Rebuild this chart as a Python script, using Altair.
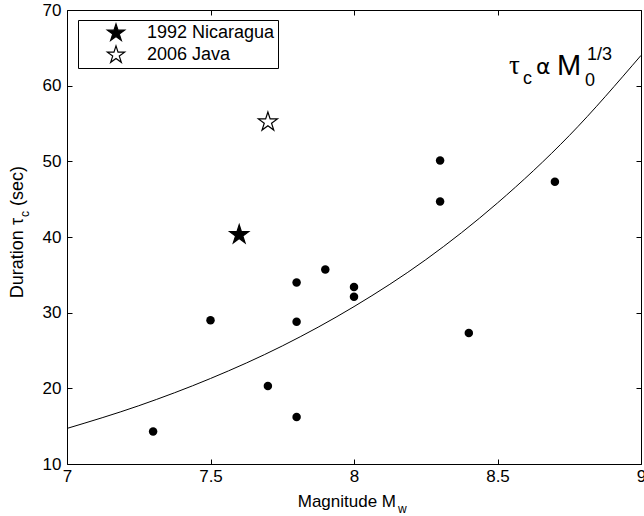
import altair as alt
import pandas as pd

# ---- data ----
mw = [7.3, 7.5, 7.7, 7.8, 7.8, 7.8, 7.9, 8.0, 8.0, 8.3, 8.3, 8.4, 8.7]
tau = [14.3, 29.0, 20.3, 16.2, 28.8, 34.0, 35.7, 33.4, 32.1, 50.1, 44.7, 27.3, 47.3]

star_names = ["1992 Nicaragua", "2006 Java"]
star_mw = [7.6, 7.7]
star_tau = [40.3, 55.2]
star_fill = ["black", "white"]

curve_mw = [7.0, 7.25, 7.5, 7.75, 8.0, 8.25, 8.5, 8.75, 9.0]
curve_tau = [14.7, 17.7, 21.3, 25.6, 30.8, 37.0, 44.5, 53.4, 64.0]

x_ticks = [7, 7.5, 8, 8.5, 9]
y_ticks = [10, 20, 30, 40, 50, 60, 70]

x_title = ["Magnitude M", "w"]
y_title = ["Duration \u03c4", "c", "(sec)"]
annot = ["\u03c4", "c", "\u03b1", "M", "0", "1/3"]

# ---- styling ----
FONT = "Liberation Sans"
STAR = ("M0,-1L0.2245,-0.309L0.951,-0.309L0.363,0.118L0.588,0.809L0,0.382"
        "L-0.588,0.809L-0.363,0.118L-0.951,-0.309L-0.2245,-0.309Z")

xs = alt.Scale(domain=[7, 9], nice=False, zero=False)
ys = alt.Scale(domain=[10, 70], nice=False, zero=False)


def ax(orient, values, fmt, labels=True, pad=4):
    return alt.Axis(orient=orient, values=values, format=fmt, offset=-5,
                    domain=False, grid=False, ticks=True, tickSize=5,
                    tickColor="black", tickWidth=1, labels=labels,
                    labelFont=FONT, labelFontSize=17, labelColor="black",
                    labelPadding=pad, labelFlush=False, labelOverlap=False,
                    title=None)


df_pts = pd.DataFrame({"mw": mw, "tau": tau})
df_curve = pd.DataFrame({"mw": curve_mw, "tau": curve_tau})
df_stars = pd.DataFrame({"mw": star_mw, "tau": star_tau, "name": star_names})

curve = alt.Chart(df_curve).mark_line(
    color="black", strokeWidth=1, interpolate="monotone"
).encode(
    x=alt.X("mw:Q", scale=xs, axis=ax("top", x_ticks, ".1~f", labels=False)),
    y=alt.Y("tau:Q", scale=ys, axis=ax("right", y_ticks, "d", labels=False)),
)

points = alt.Chart(df_pts).mark_circle(size=72, color="black", opacity=1).encode(
    x=alt.X("mw:Q", scale=xs, axis=ax("bottom", x_ticks, ".1~f", pad=4)),
    y=alt.Y("tau:Q", scale=ys, axis=ax("left", y_ticks, "d", pad=6)),
)

stars = alt.Chart(df_stars).mark_point(
    shape=STAR, size=400, filled=True, stroke="black", strokeWidth=1.2, opacity=1
).encode(
    x=alt.X("mw:Q", scale=xs, axis=None),
    y=alt.Y("tau:Q", scale=ys, axis=None),
    fill=alt.Fill(
        "name:N",
        scale=alt.Scale(domain=star_names, range=star_fill),
        legend=alt.Legend(
            title=None, orient="none", legendX=11, legendY=10,
            strokeColor="black", fillColor="white", padding=3,
            labelFont=FONT, labelFontSize=18, labelColor="black",
            symbolType=STAR, symbolSize=330, symbolStrokeColor="black",
            symbolStrokeWidth=1.2, symbolOffset=25, labelOffset=21,
            rowPadding=0,
        ),
    ),
)


def txt(s, x, y, size, angle=0, align="left", font=FONT):
    kw = dict(text=s, font=font, fontSize=size, color="black", align=align,
              baseline="alphabetic")
    if angle:
        kw["angle"] = angle
    return alt.Chart(pd.DataFrame({"t": [s]})).mark_text(**kw).encode(
        x=alt.value(x), y=alt.value(y)
    )


texts = [
    # x title
    txt(x_title[0], 329, 497, 17, align="right"),
    txt(x_title[1], 331, 503, 12),
    # y title (rotated, reads bottom to top)
    txt(y_title[0], -44, 208, 18, angle=270, align="right"),
    txt(y_title[1], -38, 207, 12, angle=270, align="left"),
    txt(y_title[2], -44, 196, 18, angle=270, align="left"),
    # annotation
    txt(annot[0], 442, 64, 27, font="Liberation Serif"),
    txt(annot[1], 456, 74, 18),
    txt(annot[2], 469, 64, 22, font="DejaVu Sans"),
    txt(annot[3], 490, 65, 29),
    txt(annot[4], 518, 76, 18),
    txt(annot[5], 520, 50, 18),
]

chart = alt.layer(curve, points, stars, *texts).resolve_axis(
    x="independent", y="independent"
).properties(
    width=574, height=454,
    autosize=alt.AutoSizeParams(type="none"),
    padding={"left": 67, "top": 10, "right": 3, "bottom": 52},
).configure_view(stroke="black", strokeWidth=1)

chart.save("out.html", embed_options={"renderer": "svg", "actions": False})
